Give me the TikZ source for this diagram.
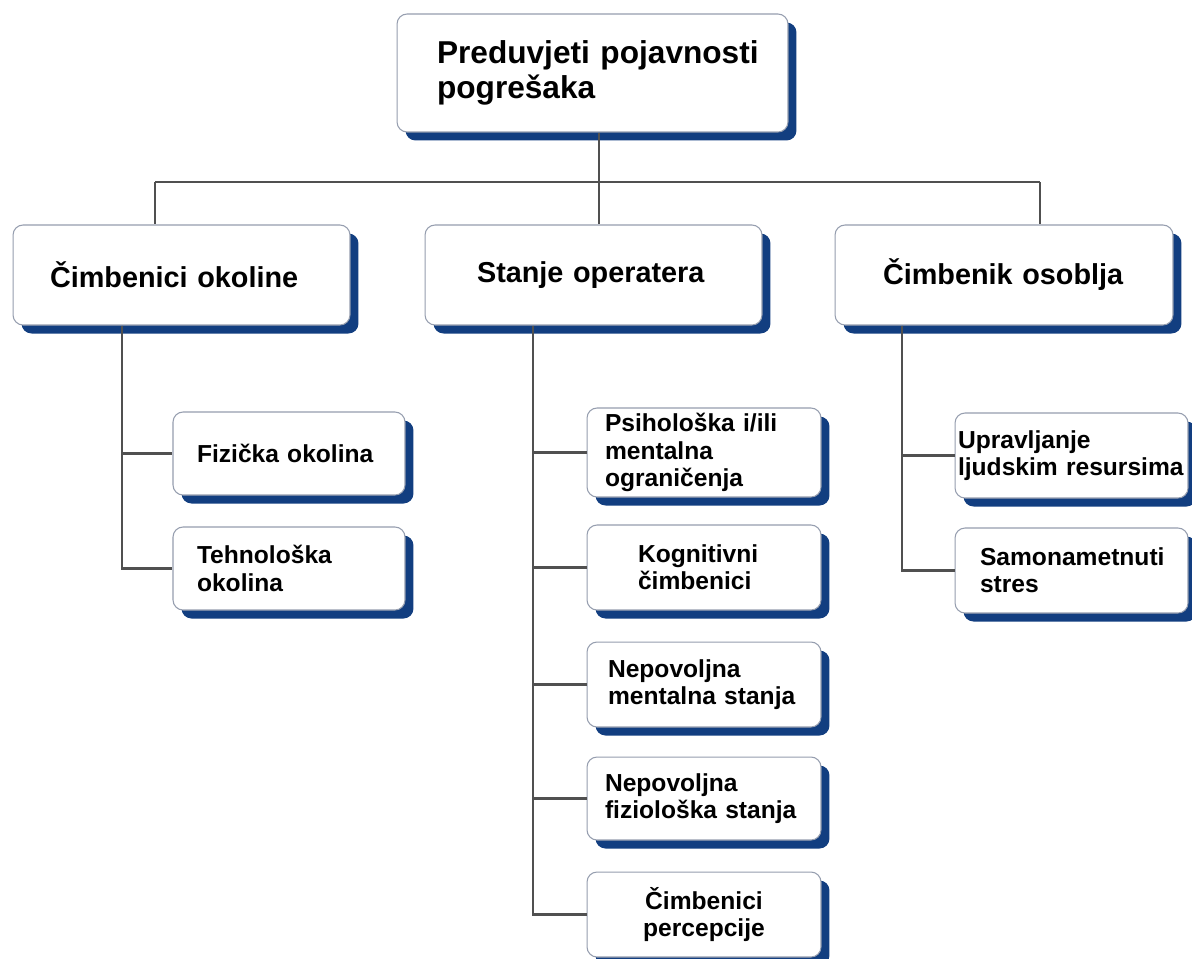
\documentclass[tikz,border=0pt]{standalone}
\usepackage{fontspec}
\setmainfont{Liberation Sans}
\usetikzlibrary{shadows}
\hyphenpenalty=10000
\exhyphenpenalty=10000
\hbadness=10000
\hfuzz=200pt
\definecolor{shblue}{RGB}{18,62,128}
\definecolor{bordergray}{RGB}{150,158,175}
\definecolor{conngray}{RGB}{80,80,80}
\tikzset{
  box/.style={draw=bordergray, line width=0.6pt, fill=white, rounded corners=0.2cm,
    align=left, inner ysep=2pt,
    drop shadow={shadow xshift=0.17cm, shadow yshift=-0.17cm, fill=shblue, opacity=1}},
  topbox/.style={box, font=\bfseries\fontsize{18}{20}\selectfont, minimum height=2.36cm},
  midbox/.style={box, font=\bfseries\fontsize{16.4}{19}\selectfont, minimum height=2.0cm},
  leafbox/.style={box, font=\bfseries\fontsize{14}{15.5}\selectfont, minimum height=1.7cm},
  conn/.style={draw=conngray, line width=1.6pt}
}
\begin{document}
\begin{tikzpicture}[x=0.02cm, y=-0.02cm]
\useasboundingbox[fill=white] (0,0) rectangle (1192,958);
% junction coordinates
\coordinate (bm) at (599,182);
\coordinate (bl) at (155,182);
\coordinate (br) at (1040,182);
\coordinate (sa) at (122,0);
\coordinate (sb) at (533,0);
\coordinate (sc) at (902,0);
% nodes
\node[topbox, inner xsep=0.8cm, text width=6.22cm] (top) at (592.5,73) {\mbox{Preduvjeti pojavnosti}\\\mbox{pogrešaka}};
\node[midbox, inner xsep=0.74cm, text width=5.26cm] (a) at (181.5,275) {\mbox{Čimbenici okoline}};
\node[midbox, inner xsep=1.04cm, text width=4.66cm] (b) at (593.5,275) {\mbox{Stanje operatera}};
\node[midbox, inner xsep=0.96cm, text width=4.84cm] (c) at (1004,275) {\mbox{Čimbenik osoblja}};
\node[leafbox, minimum height=1.66cm, inner xsep=0.48cm, text width=3.68cm] (a1) at (289,453.5) {\mbox{Fizička okolina}};
\node[leafbox, minimum height=1.66cm, inner xsep=0.48cm, text width=3.68cm] (a2) at (289,568.5) {\mbox{Tehnološka}\\\mbox{okolina}};
\node[leafbox, minimum height=1.78cm, inner xsep=0.36cm, text width=3.96cm] (b1) at (704,452.5) {\mbox{Psihološka i/ili}\\\mbox{mentalna}\\\mbox{ograničenja}};
\node[leafbox, inner xsep=1.02cm, text width=2.64cm] (b2) at (704,567.5) {\mbox{Kognitivni}\\\mbox{čimbenici}};
\node[leafbox, inner xsep=0.42cm, text width=3.84cm] (b3) at (704,684.5) {\mbox{Nepovoljna}\\\mbox{mentalna stanja}};
\node[leafbox, minimum height=1.66cm, inner xsep=0.36cm, text width=3.96cm] (b4) at (704,798.5) {\mbox{Nepovoljna}\\\mbox{fiziološka stanja}};
\node[leafbox, inner xsep=0.3cm, text width=4.08cm, align=center] (b5) at (704,914.5) {\mbox{Čimbenici}\\\mbox{percepcije}};
\node[leafbox, inner xsep=0.06cm, text width=4.54cm] (c1) at (1071.5,455.5) {\mbox{Upravljanje}\\\mbox{ljudskim resursima}};
\node[leafbox, inner xsep=0.5cm, text width=3.66cm] (c2) at (1071.5,570.5) {\mbox{Samonametnuti}\\\mbox{stres}};
% connectors
\draw[conn] (top.south -| bm) -- (bm);
\draw[conn] (bl) -- (br);
\draw[conn] (bl) -- (bl |- a.north);
\draw[conn] (bm) -- (bm |- b.north);
\draw[conn] (br) -- (br |- c.north);
\draw[conn] (a.south -| sa) |- (a2.west);
\draw[conn] (sa |- a1.west) -- (a1.west);
\draw[conn] (b.south -| sb) |- (b5.west);
\draw[conn] (sb |- b1.west) -- (b1.west);
\draw[conn] (sb |- b2.west) -- (b2.west);
\draw[conn] (sb |- b3.west) -- (b3.west);
\draw[conn] (sb |- b4.west) -- (b4.west);
\draw[conn] (c.south -| sc) |- (c2.west);
\draw[conn] (sc |- c1.west) -- (c1.west);
\end{tikzpicture}
\end{document}
